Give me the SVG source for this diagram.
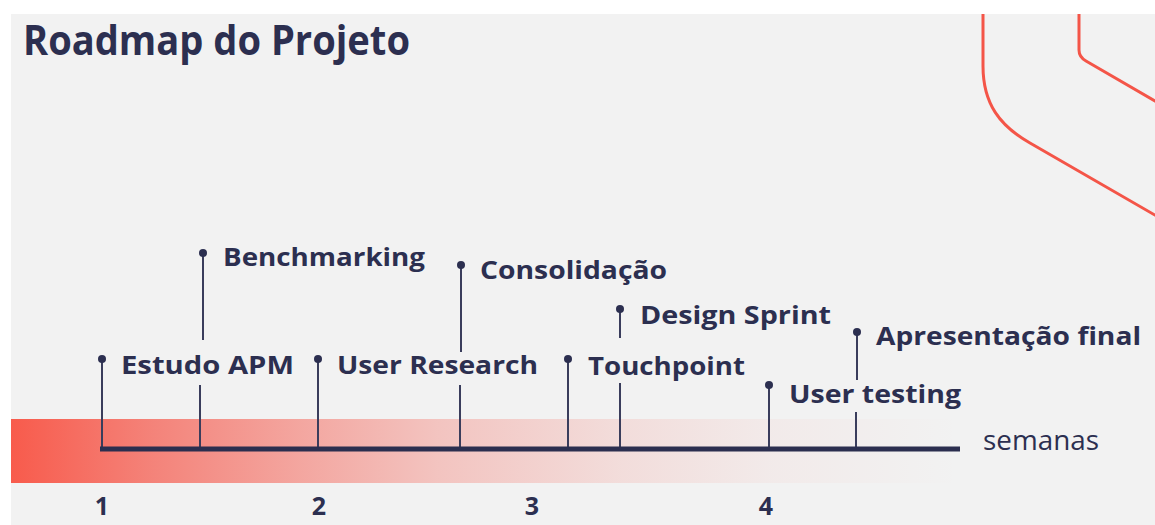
<svg xmlns="http://www.w3.org/2000/svg" width="1155" height="525" viewBox="0 0 1155 525">
<defs>
<linearGradient id="bar" x1="11" y1="0" x2="960" y2="0" gradientUnits="userSpaceOnUse">
<stop offset="0" stop-color="#f85b4c" stop-opacity="1"/>
<stop offset="0.15" stop-color="#f5584b" stop-opacity="0.72"/>
<stop offset="0.3" stop-color="#f5584b" stop-opacity="0.5"/>
<stop offset="0.45" stop-color="#f5584b" stop-opacity="0.3"/>
<stop offset="0.64" stop-color="#f5584b" stop-opacity="0.14"/>
<stop offset="0.8" stop-color="#f5584b" stop-opacity="0.05"/>
<stop offset="1" stop-color="#f5584b" stop-opacity="0"/>
</linearGradient>
<style>
.lbl{font-family:"Open Sans","Liberation Sans",sans-serif;font-weight:700;font-size:25.5px;fill:#2c2f50}
.num{font-family:"Open Sans","Liberation Sans",sans-serif;font-weight:700;font-size:25px;fill:#2c2f50;text-anchor:middle}
.stem{stroke:#3a3d5c;stroke-width:2;fill:none}
.dot{fill:#2c2f50}
.deco{stroke:#f45548;stroke-width:3;fill:none}
</style>
</defs>
<rect x="0" y="0" width="1155" height="525" fill="#ffffff"/>
<rect x="11" y="14" width="1144" height="511" fill="#f2f2f2"/>
<g id="decoration">
<path class="deco" d="M983,14 V66 C983,104 1000,126 1030,143 L1160,218"/>
<path class="deco" d="M1079,14 V50 Q1079,57 1086,61 L1160,104"/>
</g>
<text id="title" x="23" y="55" font-family="'Open Sans','Liberation Sans',sans-serif" font-weight="700" font-size="42" fill="#2c2f50" textLength="387" lengthAdjust="spacingAndGlyphs">Roadmap do Projeto</text>
<rect x="11" y="419" width="950" height="64" fill="url(#bar)"/>
<g id="connectors">
<line class="stem" x1="102" y1="359" x2="102" y2="449"/>
<line class="stem" x1="203" y1="253" x2="203" y2="340"/>
<line class="stem" x1="200" y1="385" x2="200" y2="449"/>
<line class="stem" x1="318" y1="359" x2="318" y2="449"/>
<line class="stem" x1="461" y1="265" x2="461" y2="352"/>
<line class="stem" x1="460" y1="385" x2="460" y2="449"/>
<line class="stem" x1="568" y1="359" x2="568" y2="449"/>
<line class="stem" x1="620" y1="309" x2="620" y2="338"/>
<line class="stem" x1="620" y1="383" x2="620" y2="449"/>
<line class="stem" x1="769" y1="385" x2="769" y2="449"/>
<line class="stem" x1="857" y1="332" x2="857" y2="380"/>
<line class="stem" x1="856" y1="412" x2="856" y2="449"/>
</g>
<g id="axis">
<line x1="100" y1="449" x2="960" y2="449" stroke="#2b2e4f" stroke-width="5"/>
<text x="983" y="450" font-family="'Open Sans','Liberation Sans',sans-serif" font-size="27" fill="#2c2f50" textLength="116" lengthAdjust="spacingAndGlyphs">semanas</text>
<text class="num" x="102" y="515">1</text>
<text class="num" x="319" y="515">2</text>
<text class="num" x="532" y="515">3</text>
<text class="num" x="766" y="515">4</text>
</g>
<g id="estudo-apm">
<circle class="dot" cx="102" cy="359" r="4"/>
<text class="lbl" x="121" y="374" textLength="173" lengthAdjust="spacingAndGlyphs">Estudo APM</text>
</g>
<g id="benchmarking">
<circle class="dot" cx="203" cy="253" r="4"/>
<text class="lbl" x="223" y="266" textLength="202" lengthAdjust="spacingAndGlyphs">Benchmarking</text>
</g>
<g id="user-research">
<circle class="dot" cx="318" cy="359" r="4"/>
<text class="lbl" x="337" y="374" textLength="201" lengthAdjust="spacingAndGlyphs">User Research</text>
</g>
<g id="consolidacao">
<circle class="dot" cx="461" cy="265" r="4"/>
<text class="lbl" x="480" y="279" textLength="187" lengthAdjust="spacingAndGlyphs">Consolidação</text>
</g>
<g id="touchpoint">
<circle class="dot" cx="568" cy="359" r="4"/>
<text class="lbl" x="588" y="375" textLength="157" lengthAdjust="spacingAndGlyphs">Touchpoint</text>
</g>
<g id="design-sprint">
<circle class="dot" cx="620" cy="309" r="4"/>
<text class="lbl" x="640" y="324" textLength="191" lengthAdjust="spacingAndGlyphs">Design Sprint</text>
</g>
<g id="user-testing">
<circle class="dot" cx="769" cy="385" r="4"/>
<text class="lbl" x="789" y="403" textLength="172" lengthAdjust="spacingAndGlyphs">User testing</text>
</g>
<g id="apresentacao-final">
<circle class="dot" cx="857" cy="332" r="4"/>
<text class="lbl" x="876" y="345" textLength="265" lengthAdjust="spacingAndGlyphs">Apresentação final</text>
</g>
</svg>
